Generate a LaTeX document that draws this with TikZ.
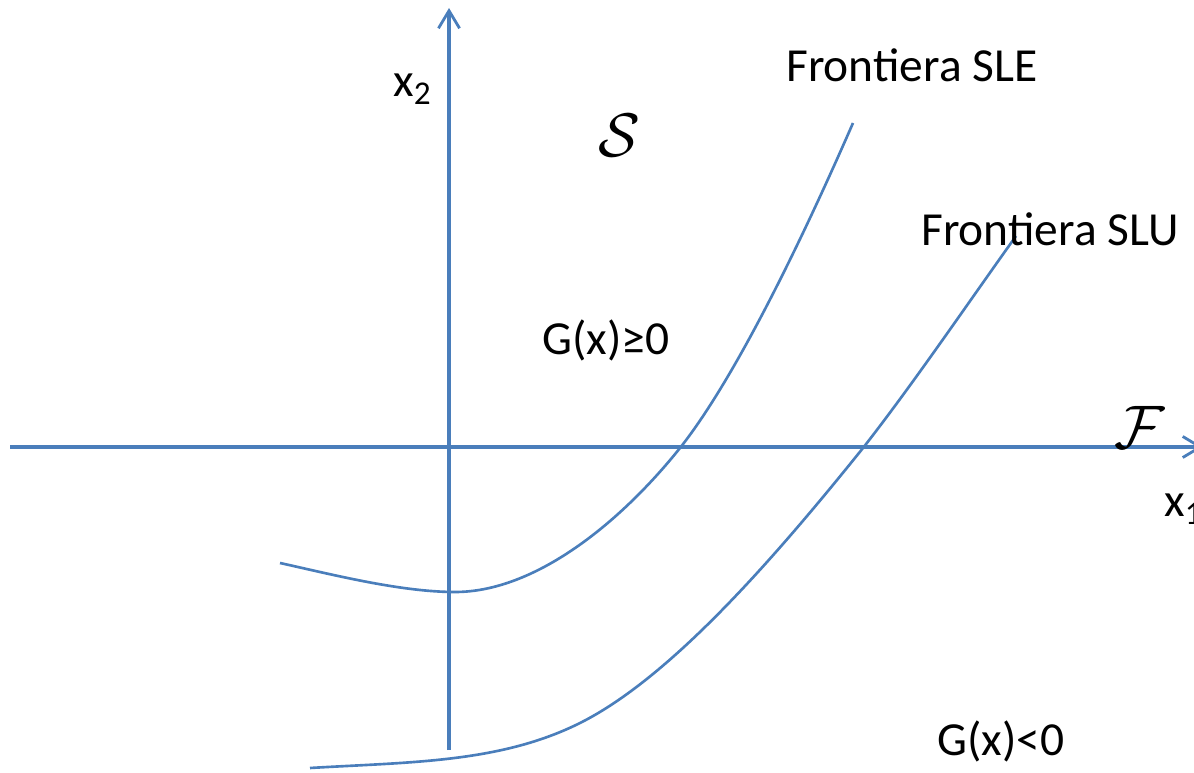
\RequirePackage{fix-cm}
\documentclass[tikz,border=0pt]{standalone}
\usepackage{fontspec}
\setmainfont{Carlito}
\usepackage{tikz}
\usetikzlibrary{positioning, arrows.meta}

\definecolor{axisblue}{HTML}{4A7EBB}

\begin{document}
\begin{tikzpicture}[x=0.02cm, y=-0.02cm,
    axis/.style={axisblue, line width=2pt, -{Straight Barb[length=10pt,width=12pt,line width=1.6pt]}},
    frontier/.style={axisblue, line width=1.5pt},
    lbl/.style={inner sep=0pt, anchor=base west, font=\fontsize{27}{32}\selectfont},
    sym/.style={inner sep=0pt, font=\fontsize{35}{40}\selectfont}]
        \useasboundingbox (0,0) rectangle (1194,773);
        \clip (0,0) rectangle (1194,773);

        % axes
        \draw[axis] (10,447) -- (1203,447);
        \draw[axis] (449,750) -- (449,8);

        % frontiers
        \draw[frontier] (280,563) .. controls (330,574) and (400,592) .. (455,592)
          .. controls (535,592) and (620,523) .. (680,448)
          .. controls (737,376) and (805,233) .. (853,123);
        \draw[frontier] (310,768) .. controls (410,762) and (500,763) .. (580,723)
          .. controls (670,678) and (773,560) .. (863,448)
          .. controls (913,384) and (966,306) .. (1016,236);

        \node[lbl] (xtwo) at (393,97) {x\textsubscript{2}};
        \node[lbl] (xone) at (1164,517) {x\textsubscript{1}};
        \node[sym] (setS) at (619,135) {$\mathcal{S}$};
        \node[sym] (setF) at (1140,427) {$\mathcal{F}$};
        \node[lbl] (sle) at (786,82) {Frontiera SLE};
        \node[lbl] (slu) at (921,246) {Frontiera SLU};
        \node[lbl] (gpos) at (542,355) {G(x)≥0};
        \node[lbl] (gneg) at (937,755) {G(x)<0};
      \end{tikzpicture}
\end{document}
